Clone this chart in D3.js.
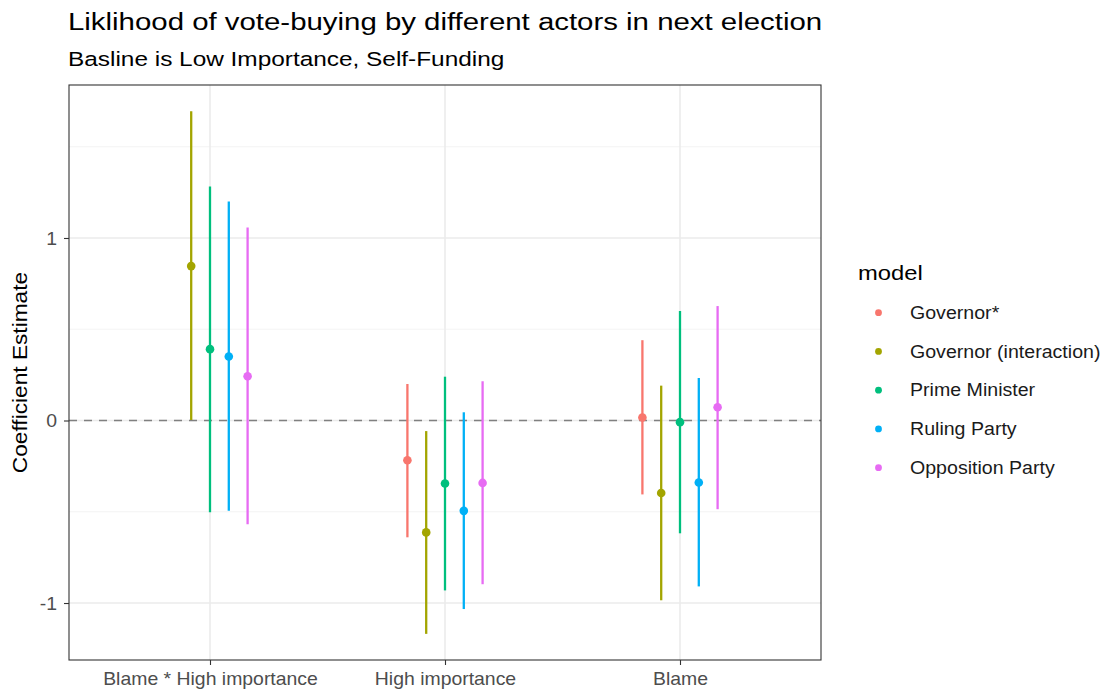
<!DOCTYPE html>
<html>
<head>
<meta charset="utf-8">
<script src="https://cdn.jsdelivr.net/npm/d3@7"></script>
<style>
  html, body { margin: 0; padding: 0; background: #ffffff; }
  svg { display: block; font-family: "Liberation Sans", Arial, Helvetica, sans-serif; }
</style>
</head>
<body>
<svg id="chart" width="1104" height="691"></svg>
<script>
// Model terms along the x axis
const terms = ["Blame * High importance", "High importance", "Blame"];

// Models (legend order) and their hue colours
const models = ["Governor*", "Governor (interaction)", "Prime Minister", "Ruling Party", "Opposition Party"];
const modelColors = ["#F8766D", "#A3A500", "#00BF7D", "#00B0F6", "#E76BF3"];

// Coefficient estimates per model, one value per term (null = term not in model)
const estGovernor      = [null, -0.218, 0.016];
const estGovernorInt   = [0.846, -0.613, -0.397];
const estPrimeMinister = [0.391, -0.345, -0.009];
const estRulingParty   = [0.351, -0.495, -0.340];
const estOpposition    = [0.242, -0.342, 0.073];

// Lower confidence bounds
const loGovernor      = [null, -0.640, -0.405];
const loGovernorInt   = [0.003, -1.169, -0.985];
const loPrimeMinister = [-0.502, -0.931, -0.618];
const loRulingParty   = [-0.495, -1.033, -0.909];
const loOpposition    = [-0.569, -0.897, -0.486];

// Upper confidence bounds
const hiGovernor      = [null, 0.200, 0.440];
const hiGovernorInt   = [1.695, -0.058, 0.191];
const hiPrimeMinister = [1.282, 0.240, 0.600];
const hiRulingParty   = [1.200, 0.045, 0.233];
const hiOpposition    = [1.058, 0.215, 0.627];

// Y axis tick values
const yTicks = [-1, 0, 1];
const yMinorTicks = [-0.5, 0.5, 1.5];

const estimates = [estGovernor, estGovernorInt, estPrimeMinister, estRulingParty, estOpposition];
const lowers = [loGovernor, loGovernorInt, loPrimeMinister, loRulingParty, loOpposition];
const uppers = [hiGovernor, hiGovernorInt, hiPrimeMinister, hiRulingParty, hiOpposition];

// Flatten into rows for drawing
const rows = [];
models.forEach((m, i) => {
  terms.forEach((t, j) => {
    if (estimates[i][j] === null) return;
    rows.push({ model: m, term: t, est: estimates[i][j], lo: lowers[i][j], hi: uppers[i][j] });
  });
});

const svg = d3.select("#chart");
const panel = { left: 69, right: 821, top: 85, bottom: 660 };

// Discrete x: 3 categories with 0.6 expansion on each side
const x = d3.scalePoint().domain(terms).range([panel.left, panel.right]).padding(0.6);
const dodgeWidth = 0.4 * x.step();
const dodge = d3.scaleBand().domain(models).range([-dodgeWidth / 2, dodgeWidth / 2]);

// Continuous y with 5% expansion of the data range
const yMin = d3.min(rows, d => d.lo), yMax = d3.max(rows, d => d.hi);
const pad = (yMax - yMin) * 0.05;
const y = d3.scaleLinear().domain([yMin - pad, yMax + pad]).range([panel.bottom, panel.top]);

const color = d3.scaleOrdinal().domain(models).range(modelColors);

// Text helper: slightly widened Helvetica-like lettering
function label(parent, tx, ty, str, size, sx, opts = {}) {
  const g = parent.append("g")
    .attr("transform", `translate(${tx},${ty}) rotate(${opts.rotate || 0}) scale(${sx},1)`);
  return g.append("text")
    .attr("text-anchor", opts.anchor || "start")
    .attr("dy", opts.dy || 0)
    .style("font-size", size + "px")
    .attr("fill", opts.fill || "#000")
    .text(str);
}

// Grid lines
const grid = svg.append("g");
grid.selectAll("line.minor").data(yMinorTicks).join("line")
  .attr("x1", panel.left).attr("x2", panel.right)
  .attr("y1", d => y(d)).attr("y2", d => y(d))
  .attr("stroke", "#f0f0f0").attr("stroke-width", 0.8);
grid.selectAll("line.majy").data(yTicks).join("line")
  .attr("x1", panel.left).attr("x2", panel.right)
  .attr("y1", d => y(d)).attr("y2", d => y(d))
  .attr("stroke", "#ebebeb").attr("stroke-width", 1.6);
grid.selectAll("line.majx").data(terms).join("line")
  .attr("x1", d => x(d)).attr("x2", d => x(d))
  .attr("y1", panel.top).attr("y2", panel.bottom)
  .attr("stroke", "#ebebeb").attr("stroke-width", 1.6);

// Reference line at zero
svg.append("line")
  .attr("x1", panel.left).attr("x2", panel.right)
  .attr("y1", y(0)).attr("y2", y(0))
  .attr("stroke", "#808080").attr("stroke-width", 1.6)
  .attr("stroke-dasharray", "8,7");

// Point ranges
const pr = svg.append("g").selectAll("g").data(rows).join("g");
const cx = d => x(d.term) + dodge(d.model) + dodge.bandwidth() / 2;
pr.append("line")
  .attr("x1", cx).attr("x2", cx)
  .attr("y1", d => y(d.lo)).attr("y2", d => y(d.hi))
  .attr("stroke", d => color(d.model)).attr("stroke-width", 2.3);
pr.append("circle")
  .attr("cx", cx).attr("cy", d => y(d.est)).attr("r", 4.3)
  .attr("fill", d => color(d.model));

// Panel border
svg.append("rect")
  .attr("x", panel.left).attr("y", panel.top)
  .attr("width", panel.right - panel.left).attr("height", panel.bottom - panel.top)
  .attr("fill", "none").attr("stroke", "#333333").attr("stroke-width", 1.1);

// Axes
const xAxis = svg.append("g").attr("transform", `translate(0,${panel.bottom})`)
  .call(d3.axisBottom(x).tickSize(5).tickPadding(8));
const yAxis = svg.append("g").attr("transform", `translate(${panel.left},0)`)
  .call(d3.axisLeft(y).tickValues(yTicks).tickSize(5).tickPadding(7).tickFormat(d => String(d)));
[xAxis, yAxis].forEach(a => {
  a.select(".domain").remove();
  a.selectAll(".tick line").attr("stroke", "#333333").attr("stroke-width", 1.1);
  a.selectAll(".tick text").attr("fill", "#4d4d4d").style("font-size", "17.5px")
    .style("font-family", "'Liberation Sans', Arial, sans-serif");
});
xAxis.selectAll(".tick text").attr("transform", "scale(1.11,1)");
yAxis.selectAll(".tick text").attr("dy", "0.35em")
  .attr("x", -12 / 1.11).attr("transform", "scale(1.11,1)");

// Titles
label(svg, 68, 29.5, "Liklihood of vote-buying by different actors in next election", 24.5, 1.2);
label(svg, 68, 65.5, "Basline is Low Importance, Self-Funding", 20.5, 1.19);
label(svg, 27, (panel.top + panel.bottom) / 2, "Coefficient Estimate", 20.5, 1.107,
  { rotate: -90, anchor: "middle" });

// Legend
const legend = svg.append("g").attr("transform", "translate(858,0)");
label(legend, 0, 280, "model", 20.5, 1.16);
const items = legend.selectAll("g.item").data(models).join("g")
  .attr("transform", (d, i) => `translate(0,${312.7 + i * 38.75})`);
items.append("circle").attr("cx", 20.5).attr("cy", 0).attr("r", 3.4)
  .attr("fill", d => color(d));
items.each(function (d) {
  label(d3.select(this), 52, 0, d, 17.5, 1.12, { dy: "0.35em", fill: "#1a1a1a" });
});
</script>
</body>
</html>
